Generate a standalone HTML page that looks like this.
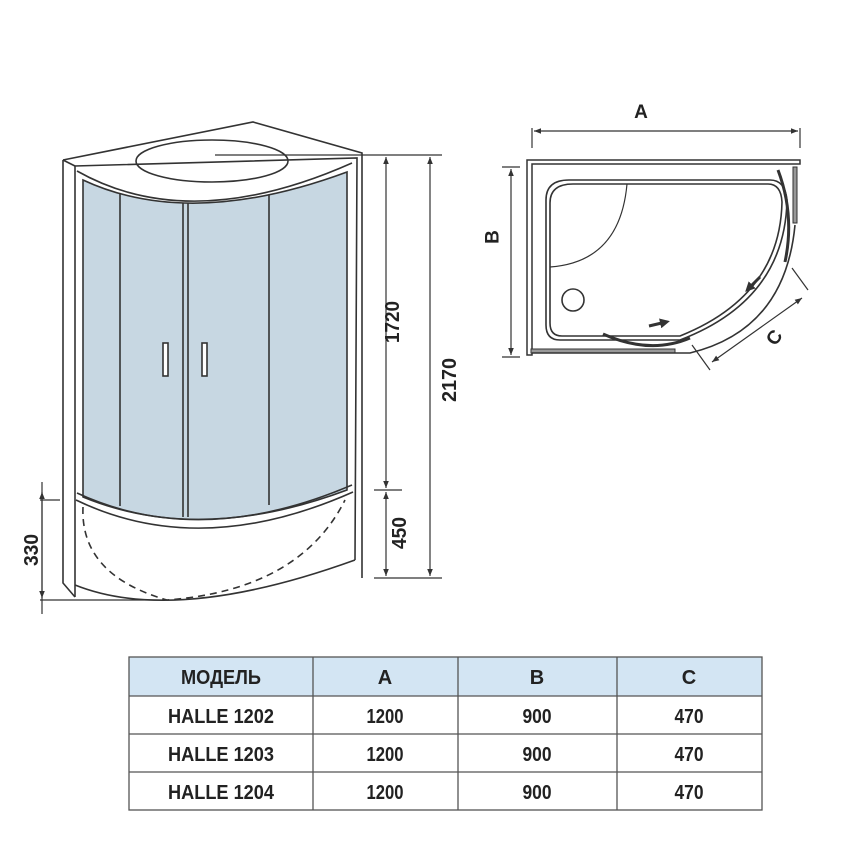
<!DOCTYPE html>
<html><head><meta charset="utf-8"><style>
html,body{margin:0;padding:0;background:#fff;width:868px;height:858px;overflow:hidden}
svg{display:block}
text{font-family:"Liberation Sans",sans-serif;font-weight:bold;fill:#222}
</style></head><body>
<svg width="868" height="858" viewBox="0 0 868 858" xmlns="http://www.w3.org/2000/svg">
<defs>
<marker id="ar" viewBox="0 0 10 10" refX="10" refY="5" markerWidth="9" markerHeight="7" markerUnits="userSpaceOnUse" orient="auto-start-reverse"><path d="M0,1 L10,5 L0,9 z" fill="#333"/></marker>
<marker id="ar2" viewBox="0 0 10 10" refX="6" refY="5" markerWidth="10" markerHeight="10" markerUnits="userSpaceOnUse" orient="auto"><path d="M0,0 L10,5 L0,10 z" fill="#333"/></marker>
</defs>
<g stroke="#333" stroke-width="1.6" fill="none">
<path d="M63,160 L253,122 L362,153 L362,578"/>
<path d="M63,160 L63,583 L75,597"/>
<path d="M75,597 L75,166 L357,158 L355,560"/>
<path d="M75,166 L63,160"/>
<path d="M77,171 Q190,235 352,163"/>
<ellipse cx="212" cy="161" rx="76" ry="21"/>
<line x1="215" y1="155" x2="442" y2="155" stroke-width="1.2"/>
<path d="M83,180 Q190,230 347,172 L347,490 Q200,545 83,497 Z" fill="#c7d7e2"/>
<path d="M77,493 Q200,550 352,485" />
<path d="M76,500 Q200,560 353,492"/>
<line x1="120" y1="193" x2="120" y2="506"/>
<line x1="183" y1="203" x2="183" y2="517"/>
<line x1="188" y1="203" x2="188" y2="517"/>
<line x1="269" y1="195" x2="269" y2="505"/>
<rect x="163" y="343" width="5" height="33" fill="#fff"/>
<rect x="202" y="343" width="5" height="33" fill="#fff"/>
<path d="M75,585 Q175,625 355,560"/>
<path d="M83,507 Q80,575 167,600 Q300,590 345,500" stroke-dasharray="7,5"/>
<g stroke-width="1.2">
<line x1="386" y1="157" x2="386" y2="488" marker-start="url(#ar)" marker-end="url(#ar)"/>
<line x1="386" y1="492" x2="386" y2="576" marker-start="url(#ar)" marker-end="url(#ar)"/>
<line x1="430" y1="157" x2="430" y2="576" marker-start="url(#ar)" marker-end="url(#ar)"/>
<line x1="374" y1="490" x2="402" y2="490"/>
<line x1="374" y1="578" x2="442" y2="578"/>
<line x1="42" y1="482" x2="42" y2="614"/>
<line x1="42" y1="492" x2="42" y2="598" marker-start="url(#ar)" marker-end="url(#ar)"/>
<line x1="40" y1="500" x2="60" y2="500"/>
<line x1="40" y1="600" x2="165" y2="600"/>
</g>
<g stroke-width="1.2">
<line x1="534" y1="131" x2="798" y2="131" marker-start="url(#ar)" marker-end="url(#ar)"/>
<line x1="532" y1="128" x2="532" y2="148"/>
<line x1="800" y1="128" x2="800" y2="148"/>
<line x1="511" y1="169" x2="511" y2="355" marker-start="url(#ar)" marker-end="url(#ar)"/>
<line x1="502" y1="167" x2="520" y2="167"/>
<line x1="502" y1="357" x2="520" y2="357"/>
</g>
<path d="M527,355 L527,160 L800,160 L800,164 L532,164 L532,355 Z" stroke-width="1.5"/>
<rect x="531" y="349" width="144" height="4" fill="#999" stroke-width="1"/>
<rect x="793" y="167" width="4" height="56" fill="#999" stroke-width="1"/>
<path d="M532,353 L690,353 Q785,330 795,225" />
<path d="M569,180 L770,180 Q785,180 787,200 Q785,300 680,340 L560,340 Q546,340 546,325 L546,200 Q546,180 569,180 Z"/>
<path d="M573,184 L768,184 Q781,184 782,202 Q780,296 680,336 L562,336 Q550,336 550,323 L550,203 Q550,184 573,184 Z"/>
<path d="M627,184 Q620,262 550,267" stroke-width="1.2"/>
<circle cx="573" cy="300" r="11"/>
<path d="M778,170 Q795,215 785,262" stroke-width="3"/>
<path d="M603,334 Q650,355 690,338" stroke-width="3"/>
<path d="M760,277 L748,289" stroke-width="3" marker-end="url(#ar2)"/>
<path d="M649,326 L666,322" stroke-width="3" marker-end="url(#ar2)"/>
<g stroke-width="1.2">
<line x1="792" y1="268" x2="808" y2="290"/>
<line x1="692" y1="345" x2="710" y2="370"/>
<line x1="712" y1="362" x2="802" y2="298" marker-start="url(#ar)" marker-end="url(#ar)"/>
</g>
</g>
<text x="393" y="322" font-size="20" textLength="42" lengthAdjust="spacingAndGlyphs" transform="rotate(-90 393 322)" text-anchor="middle" dominant-baseline="central">1720</text>
<text x="400" y="533" font-size="20" textLength="32" lengthAdjust="spacingAndGlyphs" transform="rotate(-90 400 533)" text-anchor="middle" dominant-baseline="central">450</text>
<text x="450" y="380" font-size="20" textLength="44" lengthAdjust="spacingAndGlyphs" transform="rotate(-90 450 380)" text-anchor="middle" dominant-baseline="central">2170</text>
<text x="32" y="550" font-size="20" textLength="32" lengthAdjust="spacingAndGlyphs" transform="rotate(-90 32 550)" text-anchor="middle" dominant-baseline="central">330</text>
<text x="641" y="118" font-size="19" text-anchor="middle">A</text>
<text x="493" y="237" font-size="19" transform="rotate(-90 493 237)" text-anchor="middle" dominant-baseline="central">B</text>
<text x="775" y="338" font-size="19" transform="rotate(-55 775 338)" text-anchor="middle" dominant-baseline="central">C</text>
<rect x="129" y="657" width="633" height="39" fill="#d3e5f3"/>
<g stroke="#555" stroke-width="1.3" fill="none">
<rect x="129" y="657" width="633" height="153"/>
<line x1="129" y1="696" x2="762" y2="696"/>
<line x1="129" y1="734" x2="762" y2="734"/>
<line x1="129" y1="772" x2="762" y2="772"/>
<line x1="313" y1="657" x2="313" y2="810"/>
<line x1="458" y1="657" x2="458" y2="810"/>
<line x1="617" y1="657" x2="617" y2="810"/>
</g>
<g font-size="20" text-anchor="middle" lengthAdjust="spacingAndGlyphs">
<text x="221" y="684" textLength="80" lengthAdjust="spacingAndGlyphs">МОДЕЛЬ</text><text x="385" y="684">A</text><text x="537" y="684">B</text><text x="689" y="684">C</text>
<text x="221" y="723" textLength="106" lengthAdjust="spacingAndGlyphs">HALLE 1202</text><text x="385" y="723" textLength="37" lengthAdjust="spacingAndGlyphs">1200</text><text x="537" y="723" textLength="29" lengthAdjust="spacingAndGlyphs">900</text><text x="689" y="723" textLength="29" lengthAdjust="spacingAndGlyphs">470</text>
<text x="221" y="761" textLength="106" lengthAdjust="spacingAndGlyphs">HALLE 1203</text><text x="385" y="761" textLength="37" lengthAdjust="spacingAndGlyphs">1200</text><text x="537" y="761" textLength="29" lengthAdjust="spacingAndGlyphs">900</text><text x="689" y="761" textLength="29" lengthAdjust="spacingAndGlyphs">470</text>
<text x="221" y="799" textLength="106" lengthAdjust="spacingAndGlyphs">HALLE 1204</text><text x="385" y="799" textLength="37" lengthAdjust="spacingAndGlyphs">1200</text><text x="537" y="799" textLength="29" lengthAdjust="spacingAndGlyphs">900</text><text x="689" y="799" textLength="29" lengthAdjust="spacingAndGlyphs">470</text>
</g>
</svg>
</body></html>
